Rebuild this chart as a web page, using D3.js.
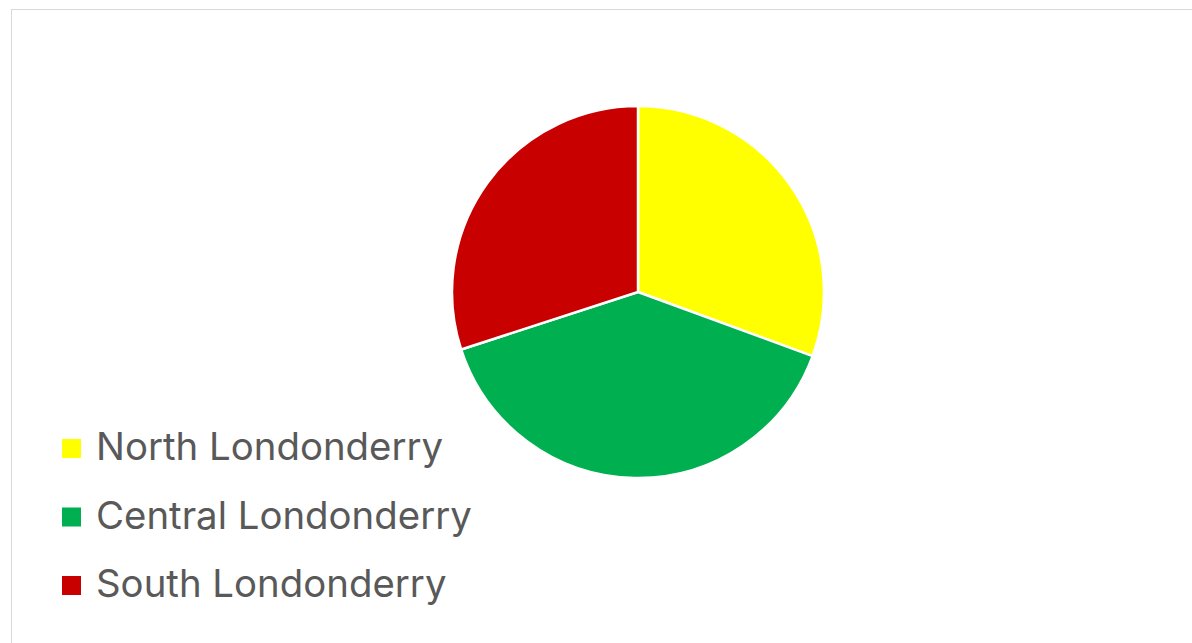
<!DOCTYPE html>
<html>
<head>
<meta charset="utf-8">
<script src="https://cdn.jsdelivr.net/npm/d3@7"></script>
<style>
  body { margin: 0; background: #fff; }
</style>
</head>
<body>
<div id="chart"></div>
<script>
const regions = ['North Londonderry', 'Central Londonderry', 'South Londonderry']
const shares = [30.6, 39.4, 30.0]
const colors = ['#ffff00', '#00b050', '#c80000']

const w = 1192, h = 643
const cx = 638, cy = 292, r = 186

const svg = d3.select('#chart')
  .append('svg')
  .attr('width', w)
  .attr('height', h)

// chart area frame (right/bottom run off the page)
svg.append('rect')
  .attr('x', 11.5)
  .attr('y', 9.5)
  .attr('width', w)
  .attr('height', h)
  .attr('fill', '#fff')
  .attr('stroke', '#d9d9d9')

const pie = d3.pie().sort(null)
const arc = d3.arc().innerRadius(0).outerRadius(r)

svg.append('g')
  .attr('transform', `translate(${cx},${cy})`)
  .selectAll('path')
  .data(pie(shares))
  .enter()
  .append('path')
  .attr('d', arc)
  .attr('fill', (d, i) => colors[i])
  .attr('stroke', '#fff')
  .attr('stroke-width', 2.5)
  .attr('stroke-linejoin', 'round')

// legend
const legY = d3.scalePoint().domain(regions).range([460, 597])

const leg = svg.append('g')
  .selectAll('g')
  .data(regions)
  .enter()
  .append('g')
  .attr('transform', d => `translate(0,${legY(d)})`)

leg.append('rect')
  .attr('x', 62)
  .attr('y', -21)
  .attr('width', 19)
  .attr('height', 19)
  .attr('fill', (d, i) => colors[i])

const labels = leg.append('text')
  .attr('x', 96)
  .attr('y', 0)
  .attr('fill', '#595959')
  .attr('font-family', 'Inter, "Open Sans", sans-serif')
  .attr('font-size', 36)
  .text(d => d)

// fit font size so the widest label spans like the reference
const widest = labels.filter(d => d === 'Central Londonderry').node()
const fs = 36 * 376 / widest.getComputedTextLength()
labels.attr('font-size', fs)
</script>
</body>
</html>
